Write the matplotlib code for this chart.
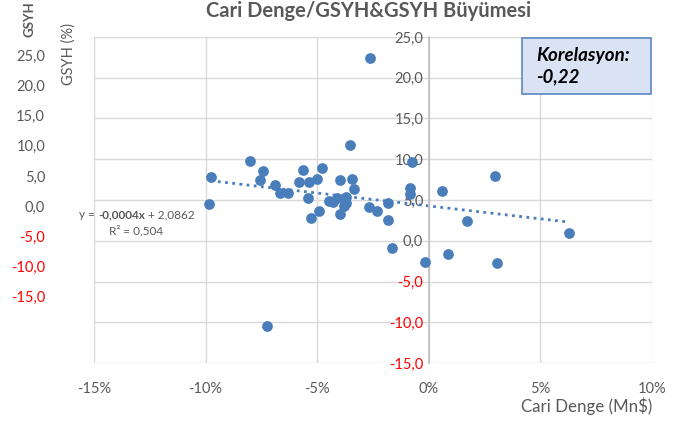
import numpy as np
import matplotlib
matplotlib.use("Agg")
import matplotlib.pyplot as plt
from matplotlib.patches import FancyBboxPatch

plt.rcParams['font.family'] = ['Lato', 'DejaVu Sans']

# Cari Denge / GSYH (oran) ve GSYH büyümesi (%)
cari_denge = [-0.0264, -0.0801, -0.0744, -0.0756, -0.0977, -0.0987, -0.0690, -0.0668,
              -0.0633, -0.0563, -0.0581, -0.0535, -0.0503, -0.0478, -0.0542, -0.0351,
              -0.0399, -0.0342, -0.0337, -0.0449, -0.0431, -0.0412, -0.0373, -0.0369,
              -0.0379, -0.0267, -0.0233, -0.0182, -0.0076, -0.0086, -0.0086, 0.0058,
              -0.0529, -0.0493, -0.0400, -0.0185, -0.0167, -0.0016, 0.0084, 0.0170,
              -0.0726, 0.0297, 0.0627, 0.0306]
gsyh = [22.4, 9.8, 8.5, 7.5, 7.8, 4.5, 6.9, 5.9,
        5.9, 8.7, 7.2, 7.2, 7.6, 8.9, 5.3, 11.7,
        7.5, 7.6, 6.3, 4.9, 4.7, 5.3, 5.4, 4.6,
        4.3, 4.2, 3.6, 4.6, 9.7, 6.5, 5.7, 6.1,
        2.8, 3.6, 3.3, 2.5, -0.9, -2.6, -1.6, 2.4,
        -10.4, 8.0, 1.0, -2.7]

# trend çizgisi uç noktaları (grafikten)
trend_x = [-0.0977, 0.0627]
trend_y = [7.36, 2.29]

sol_etiketler = ['25,0', '20,0', '15,0', '10,0', '5,0', '0,0', '-5,0', '-10,0', '-15,0']
y_ticks = [25, 20, 15, 10, 5, 0, -5, -10, -15]
x_ticks = [-0.15, -0.10, -0.05, 0.0, 0.05, 0.10]

mavi = '#4a7ebb'
gri = '#595959'

fig = plt.figure(figsize=(6.82, 4.23), dpi=100)
ax = fig.add_axes([94/682, 1-363/423, (652-94)/682, (363-37)/423])

ax.set_xlim(-0.15, 0.10)
ax.set_ylim(-15, 25)
ax.set_xticks(x_ticks)
ax.set_yticks(y_ticks)
ax.grid(True, color='#d9d9d9', linewidth=1)
ax.set_axisbelow(True)

for s in ['top', 'right', 'bottom']:
    ax.spines[s].set_visible(False)
ax.spines['left'].set_position(('data', 0))
ax.spines['left'].set_color('#bfbfbf')
ax.spines['left'].set_linewidth(1.2)

ax.set_xticklabels(['%d%%' % round(v*100) for v in x_ticks], color=gri, fontsize=10.5)
ax.set_yticklabels([('%.1f' % v).replace('.', ',') for v in y_ticks], fontsize=10.5)
for lab, v in zip(ax.get_yticklabels(), y_ticks):
    lab.set_color('red' if v < 0 else gri)
ax.tick_params(axis='both', length=0)
ax.tick_params(axis='x', pad=14)
ax.tick_params(axis='y', pad=4)

ax.scatter(cari_denge, gsyh, s=60, color=mavi, zorder=3, linewidths=0)
ax.plot(trend_x, trend_y, color=mavi, linestyle=(0, (1, 1.6)), linewidth=2, zorder=2)

fig.text(652/682, 1-406/423, 'Cari Denge (Mn$)', ha='right', va='center',
         color=gri, fontsize=12.2)

fig.text(369/682, 1-11/423, 'Cari Denge/GSYH&GSYH Büyümesi', ha='center', va='center',
         fontsize=14.5, fontweight='bold', color=gri)

# sol taraftaki ikinci eksen etiketleri
for i, lab in enumerate(sol_etiketler):
    yy = 57 + i*30.1
    fig.text(45/682, 1-yy/423, lab, ha='right', va='center', fontsize=10.5,
             color='red' if lab.startswith('-') else gri)
fig.text(69/682, 1-54/423, 'GSYH (%)', rotation=90, ha='center', va='center',
         fontsize=10.5, color=gri)
fig.text(30/682, 1-19/423, 'GSYH', rotation=90, ha='center', va='center',
         fontsize=9.5, fontweight='bold', color=gri)

# korelasyon kutusu
box = FancyBboxPatch((522/682, 1-94/423), (651-522)/682, (94-38)/423,
                     boxstyle='square,pad=0', transform=fig.transFigure,
                     facecolor='#dae3f3', edgecolor='#5b87c5', linewidth=1.2, zorder=5)
fig.add_artist(box)
fig.text(536/682, 1-66/423, 'Korelasyon:\n-0,22', ha='left', va='center', fontsize=13.5,
         fontweight='bold', fontstyle='italic', color='black', linespacing=1.3, zorder=6)

# trend denklemi
fig.canvas.draw()
r = fig.canvas.get_renderer()
x0 = 79
parcalar = [('y = ', 'normal'), ('-0,0004x', 'bold'), (' + 2,0862', 'normal')]
for metin, w in parcalar:
    t = fig.text(x0/682, 1-215/423, metin, ha='left', va='center', fontsize=8.5,
                 fontweight=w, color=gri)
    x0 += t.get_window_extent(renderer=r).width
fig.text(136/682, 1-231/423, 'R² = 0,504', ha='center', va='center', fontsize=8.5, color=gri)

fig.savefig('out.png', dpi=100)
